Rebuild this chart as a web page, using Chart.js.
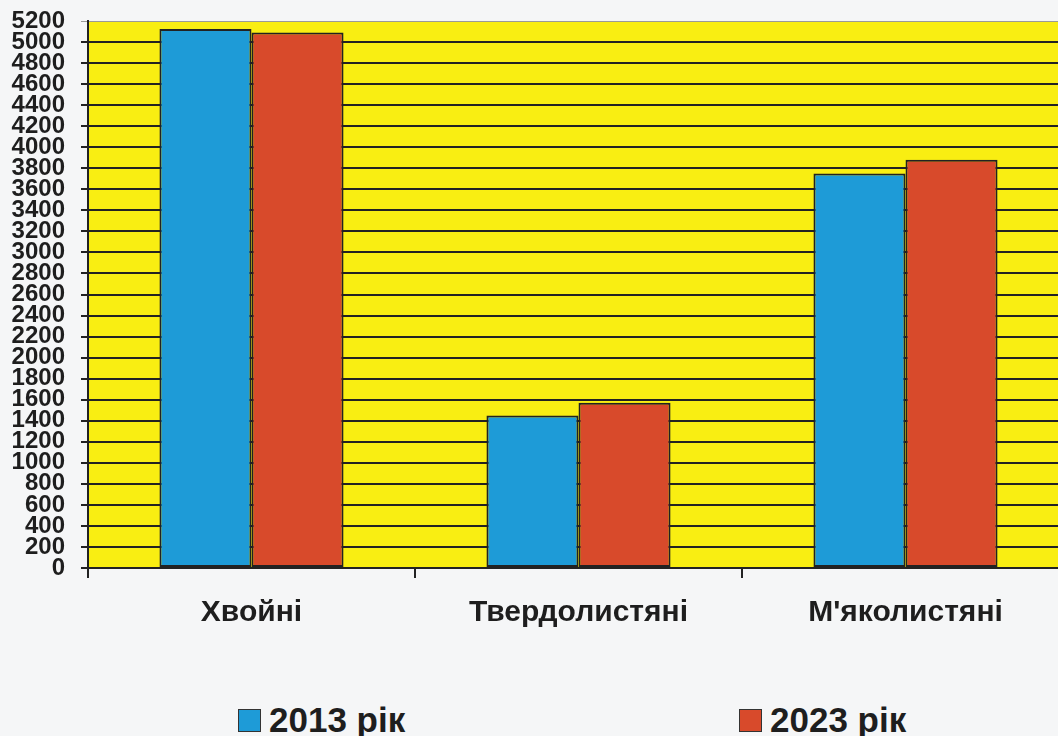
<!DOCTYPE html>
<html lang="uk">
<head>
  <meta charset="UTF-8" />
  <title>Хвойні, твердолистяні, м'яколистяні</title>
  <style>
    html, body { margin: 0; padding: 0; background: #f5f6f7; overflow: hidden; }
    .wrap { position: relative; width: 1075px; height: 736px; }
    .chart-box { position: absolute; left: 0; top: 0; width: 1075px; height: 660px; }
    .legend { position: absolute; left: 238px; top: 700px; display: flex; font: bold 35px "Liberation Sans", Arial, sans-serif; color: #1e1e1e; }
    .legend .item { display: flex; align-items: center; width: 501px; }
    .legend .box { width: 21px; height: 21px; border: 1px solid #333; margin-right: 8px; }
  </style>
</head>
<body>
  <div class="wrap">
    <div class="chart-box"><canvas id="chart" width="1075" height="660"></canvas></div>
    <div class="legend" id="legend"></div>
  </div>

  <script src="https://cdn.jsdelivr.net/npm/chart.js"></script>
  <script>
    const categories = ["Хвойні", "Твердолистяні", "М'яколистяні"];
    const seriesLabels = ["2013 рік", "2023 рік"];
    const values2013 = [5125, 1450, 3750];
    const values2023 = [5090, 1570, 3880];
    const colors = ["#1e9bd7", "#d84a2b"];

    // жовте тло області графіка
    const plotBg = {
      id: "plotBg",
      beforeDraw(chart) {
        const a = chart.chartArea;
        const ctx = chart.ctx;
        ctx.save();
        ctx.fillStyle = "#f9ee12";
        ctx.fillRect(a.left, a.top, a.right - a.left, a.bottom - a.top);
        ctx.restore();
      }
    };

    const chart = new Chart(document.getElementById("chart"), {
      type: "bar",
      data: {
        labels: categories,
        datasets: [
          { label: seriesLabels[0], data: values2013, backgroundColor: colors[0] },
          { label: seriesLabels[1], data: values2023, backgroundColor: colors[1] }
        ]
      },
      options: {
        responsive: false,
        animation: false,
        layout: { padding: { top: 21, right: 6, left: 0, bottom: 0 } },
        datasets: {
          bar: {
            borderColor: "#222",
            borderWidth: 2,
            borderSkipped: false,
            categoryPercentage: 0.563,
            barPercentage: 1
          }
        },
        plugins: {
          legend: { display: false },
          tooltip: { enabled: false }
        },
        scales: {
          x: {
            afterFit: (s) => { s.height = 92; },
            border: { color: "#222", width: 2 },
            grid: {
              offset: true,
              drawOnChartArea: false,
              drawTicks: true,
              tickLength: 10,
              color: "#222",
              lineWidth: 2
            },
            ticks: {
              color: "#1e1e1e",
              padding: 17,
              font: { family: "'Liberation Sans', Arial, sans-serif", size: 30, weight: "bold" }
            }
          },
          y: {
            min: 0,
            max: 5200,
            afterFit: (s) => { s.width = 88; },
            border: { color: "#222", width: 2 },
            grid: {
              color: (c) => c.tick && c.tick.value === 5200 ? "#9a9a9a" : "#222",
              lineWidth: (c) => c.tick && c.tick.value === 5200 ? 1 : 2,
              tickLength: 7
            },
            ticks: {
              stepSize: 200,
              autoSkip: false,
              color: "#1e1e1e",
              padding: 16,
              callback: (v) => String(v),
              font: { family: "'Liberation Sans', Arial, sans-serif", size: 24, weight: "bold", lineHeight: 0.4 }
            }
          }
        }
      },
      plugins: [plotBg]
    });

    // легенда під графіком
    const legend = document.getElementById("legend");
    chart.data.datasets.forEach((d) => {
      const item = document.createElement("div");
      item.className = "item";
      item.innerHTML = `<span class="box" style="background:${d.backgroundColor}"></span><span>${d.label}</span>`;
      legend.appendChild(item);
    });
  </script>
</body>
</html>
